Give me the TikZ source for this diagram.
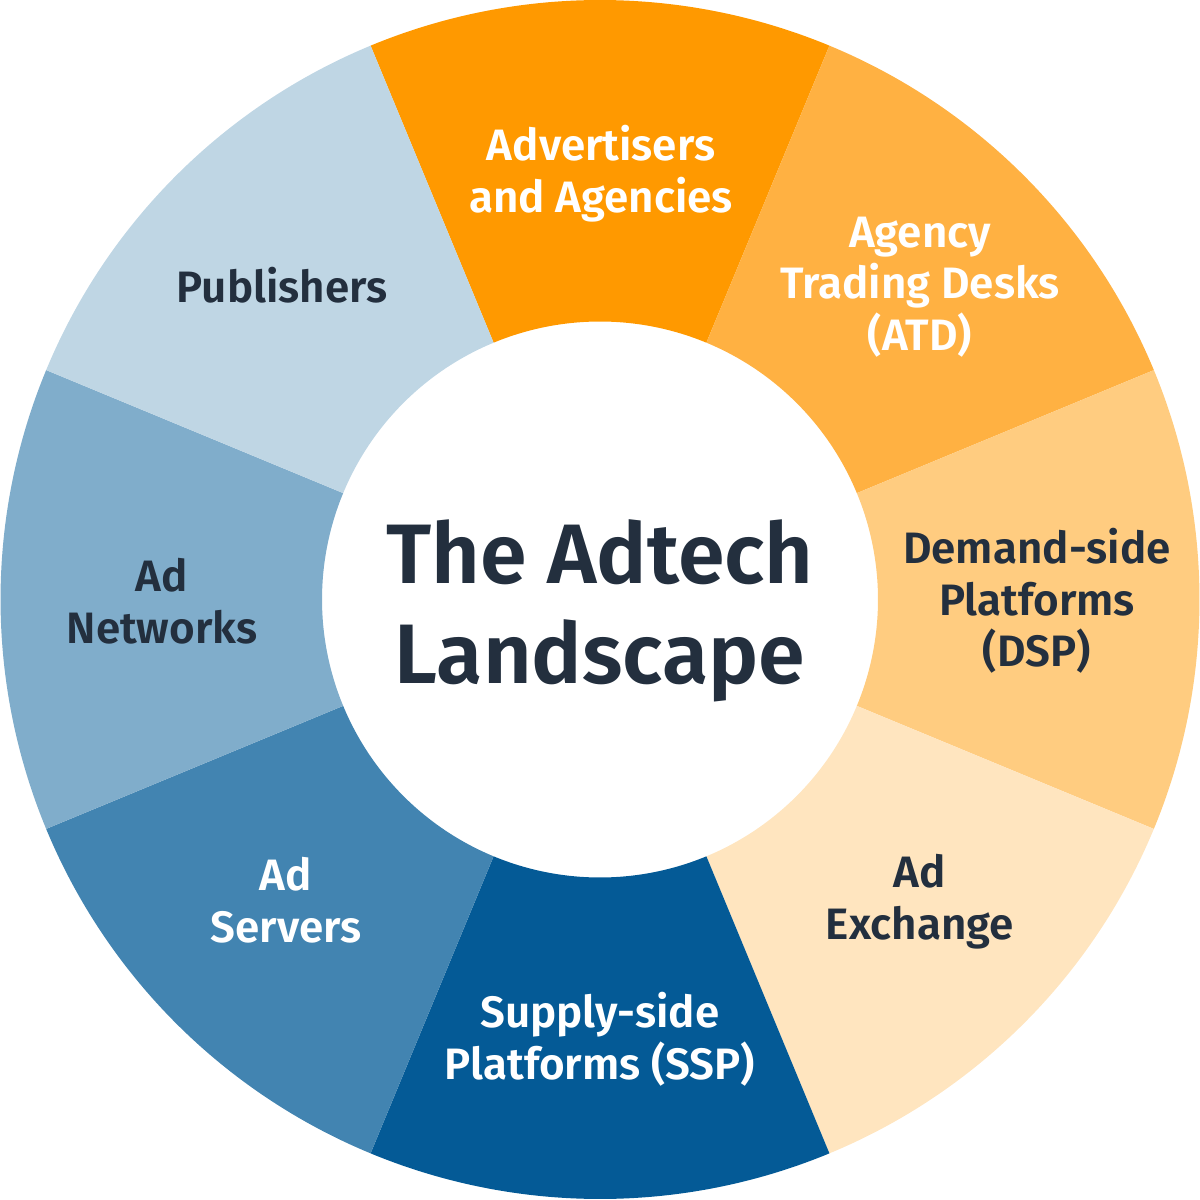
\documentclass[tikz,border=0pt]{standalone}
\usepackage{fontspec}
\setmainfont{Fira Sans}[UprightFont=* SemiBold,BoldFont=* Bold]
\definecolor{cadv}{HTML}{FF9900}
\definecolor{catd}{HTML}{FFB142}
\definecolor{cdsp}{HTML}{FFCC80}
\definecolor{cadx}{HTML}{FFE5BF}
\definecolor{cssp}{HTML}{045A96}
\definecolor{csrv}{HTML}{4284B1}
\definecolor{cnet}{HTML}{80ADCB}
\definecolor{cpub}{HTML}{BFD6E4}
\definecolor{ink}{HTML}{232F3E}
\tikzset{
  seglabel/.style={align=center,font=\fontsize{12.5}{14.7}\selectfont,inner sep=0pt},
  darktext/.style={seglabel,text=ink},
  lighttext/.style={seglabel,text=white},
}
\newcommand{\mysector}[3]{%
  \fill[#3] (#1:599.5) arc[start angle=#1,end angle=#2,radius=599.5]
    -- (#2:278) arc[start angle=#2,end angle=#1,radius=278] -- cycle;}
\begin{document}
\begin{tikzpicture}[x=0.01cm,y=0.01cm]
\useasboundingbox (0,0) rectangle (1200,1199);
\begin{scope}[shift={(600,599.5)}]
\mysector{67.5}{112.5}{cadv}
\mysector{22.5}{67.5}{catd}
\mysector{-22.5}{22.5}{cdsp}
\mysector{-67.5}{-22.5}{cadx}
\mysector{-112.5}{-67.5}{cssp}
\mysector{-157.5}{-112.5}{csrv}
\mysector{157.5}{202.5}{cnet}
\mysector{112.5}{157.5}{cpub}
\end{scope}
\node[lighttext] (adv) at (601,1025) {Advertisers\\and Agencies};
\node[lighttext] (atd) at (920,912) {Agency\\Trading Desks\\(ATD)};
\node[darktext] (dsp) at (1037,598) {Demand-side\\Platforms\\(DSP)};
\node[darktext] (adx) at (920,297) {Ad\\Exchange};
\node[lighttext] (ssp) at (600,160) {Supply-side\\Platforms (SSP)};
\node[lighttext] (srv) at (286,299) {Ad\\Servers};
\node[darktext] (net) at (162,598) {Ad\\Networks};
\node[darktext] (pub) at (282,914) {Publishers};
\node[align=center,text=ink,inner sep=0pt,font=\fontsize{24}{28.35}\selectfont] (title) at (600,588) {The Adtech\\Landscape};
\end{tikzpicture}
\end{document}
